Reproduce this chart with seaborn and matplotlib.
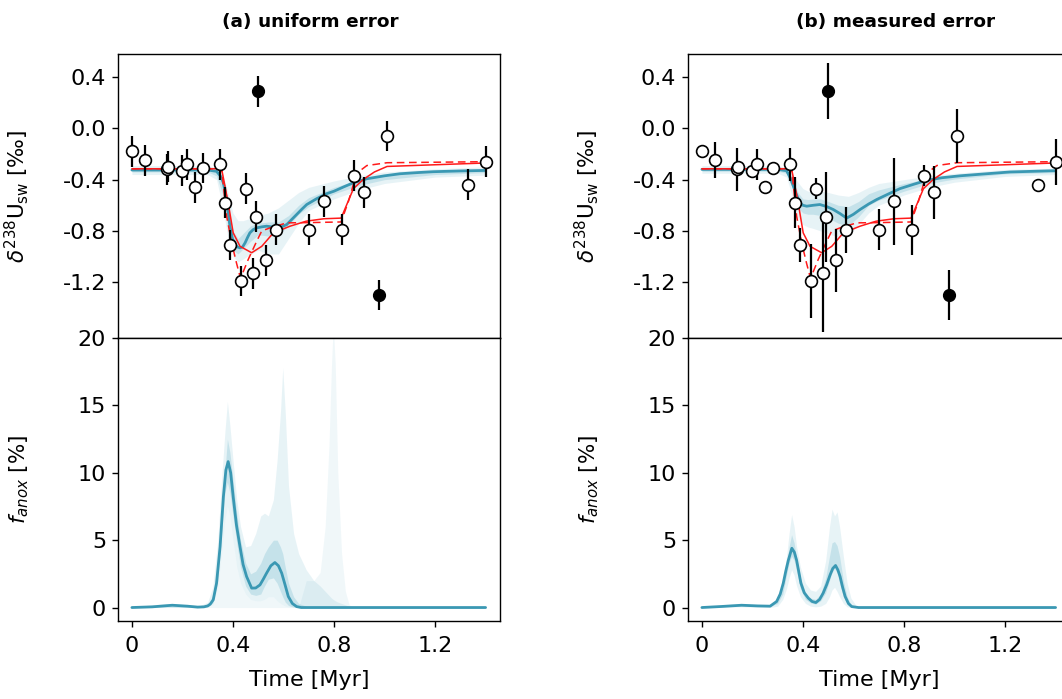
import numpy as np
import pandas as pd
import matplotlib
matplotlib.use("Agg")
import matplotlib.pyplot as plt
import seaborn as sns

sns.set_theme(style="ticks")
plt.rcParams['font.family'] = ['DejaVu Sans']
plt.rcParams['mathtext.fontset'] = 'dejavusans'
plt.rcParams['axes.unicode_minus'] = False
plt.rcParams['axes.linewidth'] = 1.0
plt.rcParams['axes.edgecolor'] = 'black'
plt.rcParams['axes.labelcolor'] = 'black'
plt.rcParams['text.color'] = 'black'
plt.rcParams['xtick.color'] = 'black'
plt.rcParams['ytick.color'] = 'black'
plt.rcParams['xtick.labelsize'] = 16
plt.rcParams['ytick.labelsize'] = 16
plt.rcParams['axes.labelsize'] = 16

LINE_BLUE = "#3a98b3"
BAND_BLUE = "#6fb8cd"
RED = "#ff1a1a"

# observations
t_obs = [0.00, 0.05, 0.14, 0.142, 0.20, 0.22, 0.25, 0.28, 0.35, 0.37, 0.39, 0.43, 0.45,
         0.48, 0.49, 0.53, 0.57, 0.70, 0.76, 0.83, 0.88, 0.92, 1.01, 1.33, 1.40]
d_obs = [-0.18, -0.25, -0.32, -0.30, -0.33, -0.28, -0.46, -0.31, -0.28, -0.58, -0.91, -1.19, -0.47,
         -1.13, -0.69, -1.03, -0.79, -0.79, -0.57, -0.79, -0.37, -0.50, -0.06, -0.44, -0.26]
err_uniform = 0.12
err_measured = [0.03, 0.14, 0.17, 0.03, 0.03, 0.12, 0.03, 0.03, 0.13, 0.20, 0.13, 0.29, 0.08,
                0.46, 0.35, 0.245, 0.18, 0.16, 0.34, 0.195, 0.083, 0.21, 0.21, 0.045, 0.18]
t_out = [0.50, 0.98]
d_out = [0.29, -1.30]
err_out_measured = [0.22, 0.195]

# red reference curves (same in both panels)
t_red = [0, 0.355, 0.381, 0.401, 0.428, 0.474, 0.514, 0.56, 0.626, 0.69, 0.76, 0.828, 0.877, 0.916, 0.96, 1.01, 1.4]
d_red = [-0.315, -0.315, -0.58, -0.815, -0.92, -0.97, -0.92, -0.815, -0.763, -0.724, -0.705, -0.70,
         -0.47, -0.398, -0.34, -0.297, -0.27]
t_red_dash = [0, 0.355, 0.375, 0.395, 0.414, 0.43, 0.461, 0.494, 0.514, 0.547, 0.613, 0.70, 0.828,
              0.857, 0.89, 0.93, 1.01, 1.4]
d_red_dash = [-0.315, -0.315, -0.685, -0.893, -1.05, -1.17, -1.02, -0.88, -0.80, -0.776, -0.737, -0.735,
              -0.73, -0.57, -0.35, -0.29, -0.268, -0.26]

# model median, delta238U
t_med_a = [0, 0.30, 0.335, 0.35, 0.362, 0.375, 0.388, 0.398, 0.408, 0.418, 0.428, 0.438, 0.448, 0.458,
           0.467, 0.48, 0.494, 0.515, 0.533, 0.553, 0.573, 0.593, 0.613, 0.632, 0.652, 0.672, 0.692,
           0.73, 0.77, 0.80, 0.84, 0.877, 0.93, 1.0, 1.061, 1.13, 1.193, 1.30, 1.40]
d_med_a = [-0.325, -0.325, -0.335, -0.37, -0.424, -0.555, -0.763, -0.86, -0.906, -0.925, -0.932, -0.925,
           -0.893, -0.85, -0.815, -0.79, -0.776, -0.768, -0.763, -0.768, -0.776, -0.768, -0.75, -0.712,
           -0.672, -0.632, -0.594, -0.55, -0.51, -0.49, -0.455, -0.424, -0.393, -0.37, -0.354, -0.345,
           -0.338, -0.332, -0.328]
t_med_b = [0, 0.30, 0.335, 0.348, 0.362, 0.375, 0.388, 0.40, 0.415, 0.44, 0.467, 0.494, 0.52, 0.547,
           0.573, 0.60, 0.626, 0.66, 0.692, 0.74, 0.784, 0.84, 0.89, 0.95, 1.022, 1.12, 1.22, 1.31, 1.40]
d_med_b = [-0.32, -0.32, -0.33, -0.38, -0.45, -0.52, -0.58, -0.60, -0.607, -0.60, -0.594, -0.61, -0.633,
           -0.665, -0.70, -0.67, -0.633, -0.59, -0.555, -0.51, -0.47, -0.435, -0.405, -0.385, -0.37,
           -0.355, -0.34, -0.335, -0.33]

# ensemble envelopes, delta238U
t_band = [0, 0.30, 0.335, 0.36, 0.38, 0.40, 0.42, 0.44, 0.47, 0.50, 0.54, 0.58, 0.62, 0.66, 0.70,
          0.80, 0.90, 1.0, 1.2, 1.4]
d_out_hi_a = [-0.29, -0.29, -0.31, -0.36, -0.50, -0.66, -0.72, -0.72, -0.70, -0.68, -0.66, -0.62, -0.56,
              -0.50, -0.46, -0.41, -0.37, -0.34, -0.315, -0.30]
d_out_lo_a = [-0.36, -0.36, -0.40, -0.62, -0.85, -1.00, -1.04, -1.02, -0.98, -0.95, -0.98, -0.98, -0.86,
              -0.74, -0.64, -0.55, -0.48, -0.43, -0.38, -0.365]
d_in_hi_a = [-0.31, -0.31, -0.33, -0.40, -0.60, -0.80, -0.86, -0.82, -0.76, -0.74, -0.73, -0.73, -0.68,
             -0.60, -0.54, -0.46, -0.40, -0.365, -0.335, -0.32]
d_in_lo_a = [-0.34, -0.34, -0.37, -0.52, -0.78, -0.95, -0.98, -0.94, -0.88, -0.83, -0.84, -0.83, -0.76,
             -0.67, -0.61, -0.51, -0.445, -0.40, -0.36, -0.345]
d_out_hi_b = [-0.29, -0.29, -0.31, -0.36, -0.42, -0.47, -0.49, -0.49, -0.49, -0.50, -0.52, -0.53, -0.50,
              -0.46, -0.43, -0.40, -0.37, -0.35, -0.32, -0.31]
d_out_lo_b = [-0.35, -0.35, -0.38, -0.55, -0.70, -0.75, -0.77, -0.78, -0.80, -0.82, -0.85, -0.84, -0.75,
              -0.66, -0.60, -0.52, -0.46, -0.42, -0.375, -0.36]
d_in_hi_b = [-0.305, -0.305, -0.32, -0.40, -0.50, -0.55, -0.555, -0.55, -0.55, -0.57, -0.60, -0.61, -0.57,
             -0.51, -0.48, -0.43, -0.39, -0.37, -0.335, -0.32]
d_in_lo_b = [-0.335, -0.335, -0.35, -0.48, -0.62, -0.66, -0.67, -0.67, -0.68, -0.70, -0.74, -0.76, -0.69,
             -0.60, -0.56, -0.49, -0.43, -0.395, -0.355, -0.345]

# f_anox median
t_f_a = [0.0, 0.08, 0.16, 0.22, 0.26, 0.285, 0.30, 0.31, 0.322, 0.335, 0.349, 0.362, 0.372, 0.381, 0.391,
         0.401, 0.414, 0.428, 0.44, 0.454, 0.474, 0.49, 0.507, 0.52, 0.533, 0.55, 0.566, 0.58, 0.593,
         0.606, 0.619, 0.635, 0.652, 0.67, 1.40]
f_a = [0, 0.05, 0.17, 0.10, 0.03, 0.05, 0.12, 0.25, 0.57, 1.8, 4.5, 8.2, 10.2, 10.83, 10.0, 8.2, 6.1,
       4.5, 3.2, 2.3, 1.44, 1.45, 1.68, 2.1, 2.55, 3.1, 3.34, 3.1, 2.55, 1.7, 0.82, 0.3, 0.07, 0.0, 0.0]
t_f_b = [0, 0.08, 0.157, 0.22, 0.27, 0.296, 0.31, 0.322, 0.332, 0.342, 0.356, 0.366, 0.375, 0.384, 0.392,
         0.405, 0.421, 0.436, 0.451, 0.466, 0.48, 0.494, 0.507, 0.518, 0.529, 0.538, 0.547, 0.557, 0.567,
         0.58, 0.593, 0.62, 1.4]
f_b = [0, 0.08, 0.17, 0.12, 0.1, 0.45, 1.0, 1.8, 2.7, 3.5, 4.4, 4.1, 3.5, 2.6, 1.8, 1.1, 0.7, 0.45, 0.37,
       0.6, 1.07, 1.7, 2.4, 2.9, 3.12, 2.8, 2.3, 1.5, 0.82, 0.3, 0.07, 0, 0]

# f_anox envelopes
t_fb_a = [0, 0.14, 0.27, 0.30, 0.32, 0.34, 0.355, 0.368, 0.378, 0.388, 0.40, 0.415, 0.43, 0.45, 0.47,
          0.49, 0.51, 0.525, 0.54, 0.56, 0.575, 0.588, 0.597, 0.607, 0.62, 0.64, 0.66, 0.69, 0.72,
          0.745, 0.765, 0.78, 0.79, 0.797, 0.805, 0.815, 0.83, 0.845, 0.86, 0.88, 1.40]
f_out_hi_a = [0.05, 0.3, 0.15, 0.4, 1.5, 5, 9.5, 13, 15.3, 13.5, 11, 8, 6, 4.5, 4.6, 5.5, 6.8, 7.0,
              6.8, 8, 11, 14.5, 17.8, 14.5, 9, 5.5, 4, 2.8, 2.0, 1.6, 1.2, 0.9, 0.7, 0.6, 0.5, 0.4,
              0.3, 0.2, 0.1, 0, 0]
f_spike_hi_a = [0, 0, 0, 0, 0, 0, 0, 0, 0, 0, 0, 0, 0, 0, 0, 0, 0, 0, 0, 0, 0, 0, 0, 0, 0, 0, 0,
                2.0, 2.0, 2.6, 6, 12, 18, 21, 18, 10, 4, 1.2, 0.2, 0, 0]
f_out_lo_a = [0, 0, 0, 0.05, 0.2, 1.5, 4, 6.5, 7.5, 6.8, 5, 3, 1.8, 1.0, 0.6, 0.5, 0.5, 0.6, 0.8, 0.8,
              0.5, 0.3, 0.2, 0.1, 0.05, 0, 0, 0, 0, 0, 0, 0, 0, 0, 0, 0, 0, 0, 0, 0, 0]
f_in_hi_a = [0, 0.2, 0.08, 0.2, 0.9, 3, 6.5, 10, 12.5, 11.5, 9.5, 7, 5, 3.3, 2.5, 2.7, 3.3, 4, 4.5, 5,
             5, 4.5, 4, 3, 1.8, 0.8, 0.3, 0.1, 0, 0, 0, 0, 0, 0, 0, 0, 0, 0, 0, 0, 0]
f_in_lo_a = [0, 0.05, 0, 0.05, 0.35, 2, 5.5, 8.5, 9.3, 8.5, 6.8, 4.8, 3, 1.6, 1.0, 0.9, 1.0, 1.6, 2.1,
             2.2, 1.8, 1.2, 0.8, 0.4, 0.15, 0.03, 0, 0, 0, 0, 0, 0, 0, 0, 0, 0, 0, 0, 0, 0, 0]

t_fb_b = [0, 0.157, 0.27, 0.30, 0.32, 0.335, 0.345, 0.355, 0.365, 0.375, 0.39, 0.41, 0.43, 0.45, 0.47,
          0.49, 0.505, 0.515, 0.525, 0.535, 0.545, 0.56, 0.575, 0.59, 0.61, 0.63, 1.40]
f_out_hi_b = [0.05, 0.3, 0.15, 0.6, 1.8, 3.8, 5.5, 6.9, 6.0, 4.5, 3.0, 1.8, 1.3, 1.2, 1.6, 3.5, 6.0,
              7.3, 6.8, 7.1, 6.0, 3.8, 1.8, 0.7, 0.15, 0.0, 0.0]
f_out_lo_b = [0, 0.05, 0.0, 0.1, 0.6, 1.4, 2.2, 2.8, 2.4, 1.6, 0.8, 0.3, 0.1, 0.05, 0.1, 0.3, 0.8, 1.3,
              1.5, 1.2, 0.8, 0.3, 0.05, 0, 0, 0, 0]
f_in_hi_b = [0.02, 0.22, 0.12, 0.5, 1.5, 3.2, 4.5, 5.4, 4.8, 3.7, 2.2, 1.1, 0.7, 0.6, 1.0, 2.2, 3.8,
             4.8, 4.9, 4.6, 3.8, 2.0, 0.8, 0.2, 0.02, 0, 0]
f_in_lo_b = [0, 0.12, 0.08, 0.3, 1.0, 2.4, 3.3, 3.8, 3.5, 2.7, 1.4, 0.6, 0.35, 0.25, 0.5, 1.1, 2.0,
             2.6, 2.9, 2.6, 1.8, 0.8, 0.25, 0.05, 0, 0, 0]

panels = [
    dict(title="(a) uniform error", x0=118, err=[err_uniform] * len(t_obs), err_out=[err_uniform] * 2,
         t_med=t_med_a, d_med=d_med_a, bands=[(d_out_lo_a, d_out_hi_a), (d_in_lo_a, d_in_hi_a)],
         t_f=t_f_a, f=f_a, t_fb=t_fb_a,
         fbands=[(f_out_lo_a, f_spike_hi_a, 0.10), (f_out_lo_a, f_out_hi_a, 0.16), (f_in_lo_a, f_in_hi_a, 0.28)],
         title_x=310),
    dict(title="(b) measured error", x0=688, err=err_measured, err_out=err_out_measured,
         t_med=t_med_b, d_med=d_med_b, bands=[(d_out_lo_b, d_out_hi_b), (d_in_lo_b, d_in_hi_b)],
         t_f=t_f_b, f=f_b, t_fb=t_fb_b,
         fbands=[(f_out_lo_b, f_out_hi_b, 0.16), (f_in_lo_b, f_in_hi_b, 0.28)],
         title_x=896),
]

W, H = 1062, 699
fig = plt.figure(figsize=(W / 100, H / 100), dpi=100)
aw = 382
xlim = (-0.055, 1.457)

for p in panels:
    ax_u = fig.add_axes([p["x0"] / W, 1 - 338 / H, aw / W, (338 - 54) / H])
    ax_f = fig.add_axes([p["x0"] / W, 1 - 621 / H, aw / W, (621 - 338) / H])

    # uranium panel
    for (lo, hi), a in zip(p["bands"], [0.16, 0.28]):
        ax_u.fill_between(t_band, lo, hi, color=BAND_BLUE, alpha=a, lw=0)
    sns.lineplot(x=p["t_med"], y=p["d_med"], ax=ax_u, color=LINE_BLUE, lw=2.0)
    sns.lineplot(x=t_red, y=d_red, ax=ax_u, color=RED, lw=1.1)
    sns.lineplot(x=t_red_dash, y=d_red_dash, ax=ax_u, color=RED, lw=1.1, linestyle=(0, (5, 3)))
    ax_u.errorbar(t_obs, d_obs, yerr=p["err"], fmt='o', ms=8.5, mfc='white', mec='black', mew=1.2,
                  ecolor='black', elinewidth=1.6, capsize=0, zorder=5)
    ax_u.errorbar(t_out, d_out, yerr=p["err_out"], fmt='o', ms=8.5, mfc='black', mec='black',
                  ecolor='black', elinewidth=1.6, capsize=0, zorder=5)
    ax_u.set_xlim(xlim)
    ax_u.set_ylim(-1.635, 0.58)
    ax_u.set_yticks([-1.2, -0.8, -0.4, 0.0, 0.4])
    ax_u.set_yticklabels(["-1.2", "-0.8", "-0.4", "0.0", "0.4"])
    ax_u.set_xticks([0, 0.4, 0.8, 1.2])
    ax_u.tick_params(axis='x', labelbottom=False, direction='out', length=4.5, width=1)
    ax_u.tick_params(axis='y', direction='out', length=4.5, width=1, pad=4)
    ax_u.set_ylabel(r"$\delta^{238}$U$_{\rm sw}$ [‰]", fontsize=15.5)
    ax_u.yaxis.set_label_coords(-87 / aw, 0.5)

    # f_anox panel
    for lo, hi, a in p["fbands"]:
        ax_f.fill_between(p["t_fb"], lo, hi, color=BAND_BLUE, alpha=a, lw=0)
    sns.lineplot(x=p["t_f"], y=p["f"], ax=ax_f, color=LINE_BLUE, lw=2.0)
    ax_f.set_xlim(xlim)
    ax_f.set_ylim(-1, 20)
    ax_f.set_yticks([0, 5, 10, 15, 20])
    ax_f.set_xticks([0, 0.4, 0.8, 1.2])
    ax_f.set_xticklabels(["0", "0.4", "0.8", "1.2"])
    ax_f.tick_params(axis='x', direction='out', length=4.5, width=1, pad=6)
    ax_f.tick_params(axis='y', direction='out', length=4.5, width=1, pad=4)
    ax_f.set_ylabel(r"$f_{anox}$ [%]", fontsize=15.5)
    ax_f.yaxis.set_label_coords(-87 / aw, 0.5)
    ax_f.set_xlabel("Time [Myr]")
    ax_f.xaxis.set_label_coords(0.5, -(670 - 621) / (621 - 338))

    fig.text(p["title_x"] / W, 1 - 22 / H, p["title"], ha='center', va='center',
             fontsize=13.3, fontweight='bold')

fig.savefig("out.png", dpi=100)
